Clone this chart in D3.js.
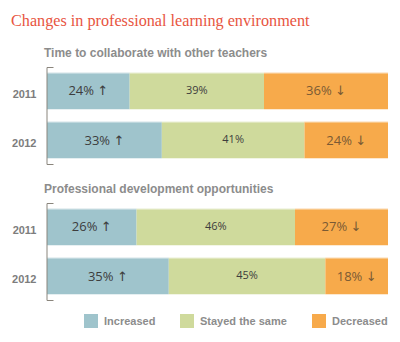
<!DOCTYPE html>
<html>
<head>
<meta charset="utf-8">
<script src="https://cdn.jsdelivr.net/npm/d3@7"></script>
<style>
  html, body { margin: 0; padding: 0; background: #ffffff; }
  svg { display: block; }
</style>
</head>
<body>
<svg id="chart" width="400" height="342"></svg>
<script>
// Survey panels and the two survey years shown in each
const panels = ["Time to collaborate with other teachers", "Professional development opportunities"];
const years = ["2011", "2012"];
const categories = ["Increased", "Stayed the same", "Decreased"];

// Shares (%) per row: panel 1 (2011, 2012), then panel 2 (2011, 2012)
const increased = [24, 33, 26, 35];
const stayedSame = [39, 41, 46, 45];
const decreased = [36, 24, 27, 18];

const colors = ["#9fc4cc", "#cfda9c", "#f7aa4b"];
const labelColors = ["#3d3d3d", "#3d3d3d", "#7a5a34"];
const arrows = [" \u2191", "", " \u2193"];

const svg = d3.select("#chart");

svg.append("text")
  .attr("x", 11).attr("y", 26)
  .attr("font-family", "'Liberation Serif', serif")
  .attr("font-size", 16.2)
  .attr("fill", "#e8553f")
  .text("Changes in professional learning environment");

const x = d3.scaleLinear().domain([0, 1]).range([47, 388]);
const keys = ["inc", "same", "dec"];
const panelTop = [67, 203];
const titleY = [57, 193];

panels.forEach((panel, p) => {
  const rows = years.map((yr, i) => {
    const k = p * 2 + i;
    return { year: yr, inc: increased[k], same: stayedSame[k], dec: decreased[k] };
  });
  const stacked = d3.stack().keys(keys).offset(d3.stackOffsetExpand)(rows);

  const y = d3.scaleBand().domain(years)
    .range([panelTop[p], panelTop[p] + 97])
    .paddingInner(0.255).paddingOuter(0.117);

  const g = svg.append("g");

  g.append("text")
    .attr("x", 44).attr("y", titleY[p])
    .attr("font-family", "'Liberation Sans', Arial, sans-serif")
    .attr("font-weight", "bold")
    .attr("font-size", 12)
    .attr("fill", "#8c8c8c")
    .text(panel);

  stacked.forEach((layer, li) => {
    const lg = g.append("g");
    lg.selectAll("rect").data(layer).join("rect")
      .attr("x", d => x(d[0]))
      .attr("y", d => y(d.data.year))
      .attr("width", d => x(d[1]) - x(d[0]))
      .attr("height", y.bandwidth())
      .attr("fill", colors[li]);
    lg.selectAll("line.hl").data(layer).join("line")
      .attr("class", "hl")
      .attr("x1", d => x(d[0])).attr("x2", d => x(d[1]))
      .attr("y1", d => y(d.data.year) + 0.5).attr("y2", d => y(d.data.year) + 0.5)
      .attr("stroke", "#ffffff").attr("stroke-opacity", 0.45);
    lg.selectAll("text").data(layer).join("text")
      .attr("x", d => (x(d[0]) + x(d[1])) / 2)
      .attr("y", d => y(d.data.year) + y.bandwidth() / 2 + (li === 1 ? 3 : 4.5))
      .attr("text-anchor", "middle")
      .attr("font-family", "'Open Sans', 'DejaVu Sans', sans-serif")
      .attr("font-size", li === 1 ? 11 : 13)
      .attr("fill", labelColors[li])
      .text(d => d.data[keys[li]] + "%" + arrows[li]);
  });

  const axis = d3.axisLeft(y).tickSizeInner(0).tickSizeOuter(-7).tickPadding(10);
  const ag = g.append("g").attr("transform", "translate(46.5,0)").call(axis);
  ag.select(".domain").attr("stroke", "#8a857c");
  ag.selectAll(".tick text")
    .attr("dy", "0.32em")
    .attr("y", 3)
    .attr("font-family", "'Liberation Sans', Arial, sans-serif")
    .attr("font-weight", "bold")
    .attr("font-size", 11)
    .attr("fill", "#7d7d7d");
});

// Legend
const legendX = [84, 180, 312];
const legend = svg.append("g");
categories.forEach((c, i) => {
  legend.append("rect")
    .attr("x", legendX[i]).attr("y", 314)
    .attr("width", 14).attr("height", 14)
    .attr("fill", colors[i]);
  legend.append("text")
    .attr("x", legendX[i] + 20).attr("y", 325)
    .attr("font-family", "'Liberation Sans', Arial, sans-serif")
    .attr("font-weight", "bold")
    .attr("font-size", 11)
    .attr("fill", "#8c8c8c")
    .text(c);
});
</script>
</body>
</html>
